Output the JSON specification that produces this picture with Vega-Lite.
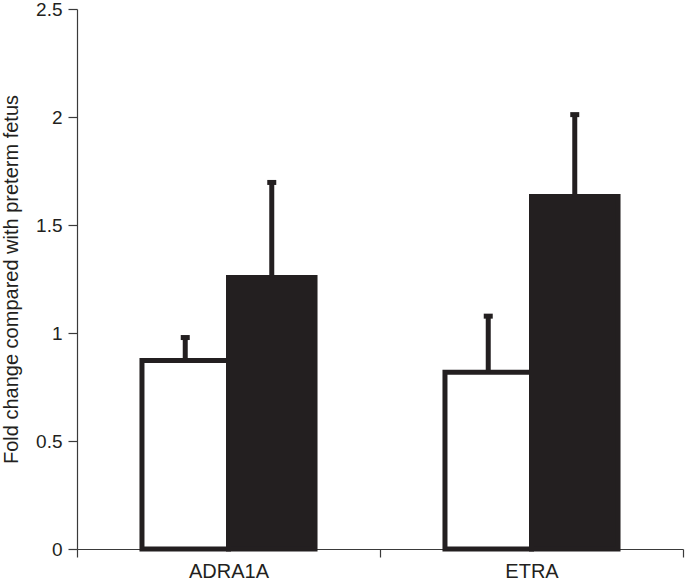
{
  "$schema": "https://vega.github.io/schema/vega-lite/v6.json",
  "width": 606,
  "height": 540,
  "autosize": {"type": "none"},
  "padding": {"left": 77, "top": 9, "right": 2, "bottom": 33},
  "background": "white",
  "config": {
    "view": {"stroke": null},
    "font": "Liberation Sans",
    "axis": {
      "domainColor": "#3a3a3a",
      "tickColor": "#3a3a3a",
      "domainWidth": 1.2,
      "tickWidth": 1.2,
      "labelColor": "#231f20",
      "titleColor": "#231f20",
      "labelFontSize": 20,
      "titleFontSize": 20,
      "titleFontWeight": "normal",
      "grid": false
    }
  },
  "data": {
    "values": [
      {"gene": "ADRA1A", "group": "Group 1", "value": 0.873, "upper": 0.979},
      {"gene": "ADRA1A", "group": "Group 2", "value": 1.257, "upper": 1.697},
      {"gene": "ETRA", "group": "Group 1", "value": 0.818, "upper": 1.078},
      {"gene": "ETRA", "group": "Group 2", "value": 1.632, "upper": 2.011}
    ]
  },
  "encoding": {
    "x": {
      "field": "gene",
      "type": "nominal",
      "sort": ["ADRA1A", "ETRA"],
      "scale": {"paddingInner": 0, "paddingOuter": 0},
      "axis": {
        "title": null,
        "labelAngle": 0,
        "tickBand": "extent",
        "tickSize": 8,
        "labelPadding": 4
      }
    },
    "xOffset": {
      "field": "group",
      "type": "nominal",
      "sort": ["Group 1", "Group 2"],
      "scale": {"paddingInner": 0, "paddingOuter": 0.751}
    }
  },
  "layer": [
    {
      "mark": {"type": "bar", "stroke": "#231f20", "strokeWidth": 5, "strokeJoin": "miter"},
      "encoding": {
        "y": {
          "field": "value",
          "type": "quantitative",
          "scale": {"domain": [0, 2.5], "nice": false},
          "axis": {
            "title": "Fold change compared with preterm fetus",
            "values": [0, 0.5, 1, 1.5, 2, 2.5],
            "labelExpr": "'' + datum.value",
            "labelFontSize": 19,
            "tickSize": 9,
            "labelPadding": 6,
            "titlePadding": 14
          }
        },
        "fill": {
          "field": "group",
          "type": "nominal",
          "scale": {"domain": ["Group 1", "Group 2"], "range": ["#ffffff", "#231f20"]},
          "legend": null
        }
      }
    },
    {
      "mark": {"type": "rule", "color": "#231f20", "strokeWidth": 5},
      "encoding": {
        "y": {"field": "value", "type": "quantitative"},
        "y2": {"field": "upper"}
      }
    },
    {
      "mark": {"type": "tick", "color": "#231f20", "opacity": 1, "size": 9, "thickness": 5, "orient": "horizontal"},
      "encoding": {
        "y": {"field": "upper", "type": "quantitative"}
      }
    }
  ]
}
